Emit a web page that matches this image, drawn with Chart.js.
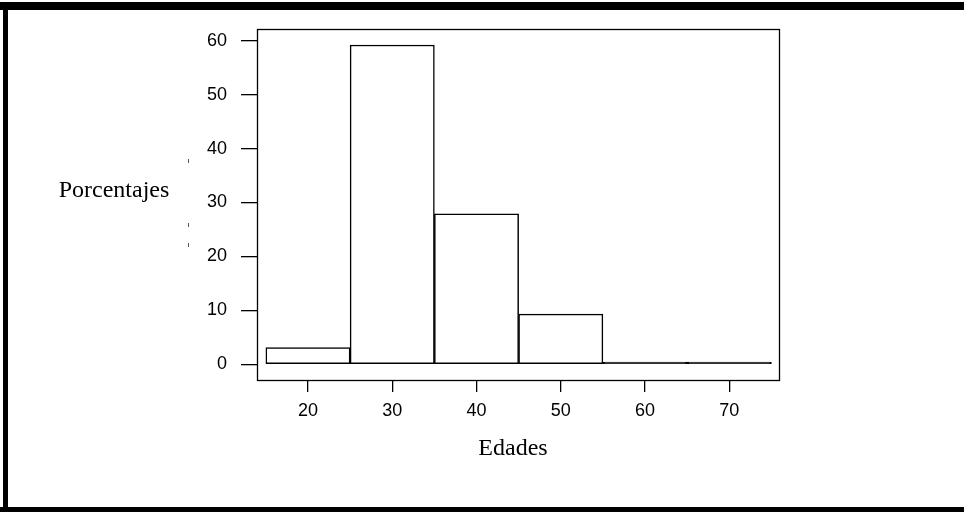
<!DOCTYPE html>
<html>
<head>
<meta charset="utf-8">
<script src="https://cdn.jsdelivr.net/npm/chart.js@4"></script>
<style>
html,body{margin:0;padding:0;background:#fff;}
#wrap{width:964px;height:512px;position:relative;}
</style>
</head>
<body>
<div id="wrap"><canvas id="c" width="964" height="512"></canvas></div>
<script>
// Data
const binCenters = [20, 30, 40, 50, 60, 70];
const percentages = [3.1, 59.2, 27.9, 9.3, 0.4, 0.4];
const xTicks = [20, 30, 40, 50, 60, 70];
const yTicks = [0, 10, 20, 30, 40, 50, 60];
const xTitle = 'Edades';
const yTitle = 'Porcentajes';

const framePlugin = {
  id: 'frame',
  afterDraw(chart) {
    const ctx = chart.ctx;
    const a = chart.chartArea;
    ctx.save();
    // plot box
    ctx.strokeStyle = '#000';
    ctx.lineWidth = 1.3;
    ctx.strokeRect(Math.round(a.left) + 0.5, Math.round(a.top) + 0.5,
                   Math.round(a.right - a.left), Math.round(a.bottom - a.top));
    // axis titles
    ctx.fillStyle = '#000';
    ctx.font = '24px "Liberation Serif", "Times New Roman", serif';
    ctx.textAlign = 'center';
    ctx.textBaseline = 'alphabetic';
    ctx.fillText(xTitle, 513, 455);
    ctx.fillText(yTitle, 114, 197);
    // small stray marks near y title
    ctx.fillStyle = '#555';
    ctx.fillRect(188, 159, 1, 4);
    ctx.fillRect(188, 223, 1, 4);
    ctx.fillRect(188, 243, 1, 4);
    // outer black frame
    ctx.fillStyle = '#000';
    ctx.fillRect(0, 2, 964, 8);
    ctx.fillRect(3, 2, 5, 510);
    ctx.fillRect(0, 507, 964, 5);
    ctx.restore();
  }
};

new Chart(document.getElementById('c'), {
  type: 'bar',
  data: {
    datasets: [{
      data: binCenters.map((x, i) => ({x: x, y: percentages[i]})),
      backgroundColor: (c) => (c.raw && c.raw.y < 1 ? '#000' : '#fff'),
      borderColor: '#000',
      borderWidth: 1.5,
      borderSkipped: false,
      barPercentage: 1,
      categoryPercentage: 1
    }]
  },
  options: {
    responsive: false,
    animation: false,
    events: [],
    layout: { padding: { left: 0, top: 29, right: 185, bottom: 0 } },
    plugins: { legend: { display: false }, tooltip: { enabled: false }, title: { display: false } },
    scales: {
      x: {
        type: 'linear',
        min: 13.95,
        max: 75.9,
        offset: false,
        afterFit(s) { s.height = 132; },
        afterBuildTicks(s) { s.ticks = xTicks.map(v => ({value: v})); },
        grid: { display: true, offset: false, drawOnChartArea: false, drawTicks: true, tickLength: 12, color: '#000', lineWidth: 1.3 },
        border: { display: false },
        ticks: { color: '#000', padding: 8, maxRotation: 0, autoSkip: false,
                 font: { family: '"Liberation Sans", Arial, sans-serif', size: 18 } }
      },
      y: {
        type: 'linear',
        min: -2.91,
        max: 62.17,
        afterFit(s) { s.width = 257; },
        afterBuildTicks(s) { s.ticks = yTicks.map(v => ({value: v})); },
        grid: { display: true, drawOnChartArea: false, drawTicks: true, tickLength: 16, color: '#000', lineWidth: 1.3 },
        border: { display: false },
        ticks: { color: '#000', padding: 14, autoSkip: false,
                 font: { family: '"Liberation Sans", Arial, sans-serif', size: 18 } }
      }
    }
  },
  plugins: [framePlugin]
});
</script>
</body>
</html>
